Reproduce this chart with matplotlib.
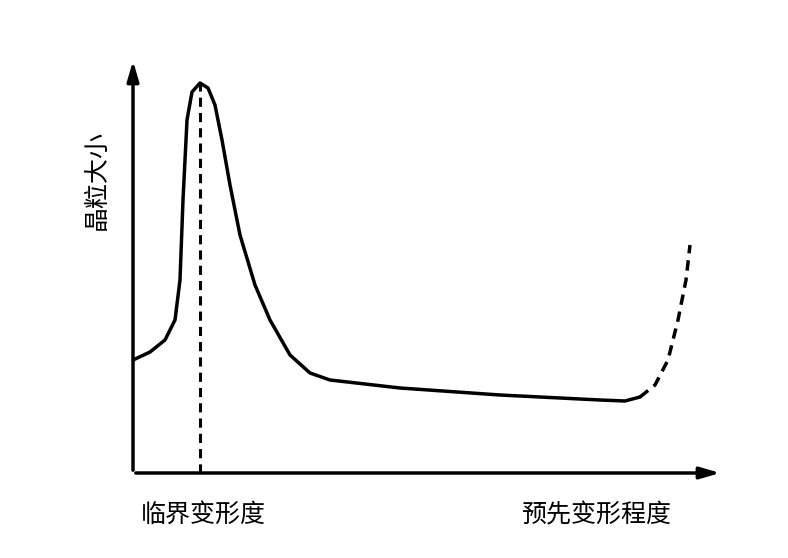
import matplotlib
matplotlib.use("Agg")
import matplotlib.pyplot as plt

plt.rcParams['font.family'] = ['Noto Sans CJK SC', 'DejaVu Sans']

solid_x = [0,17,32,42,47,50,54,59,67,75,82,89,97,107,122,137,157,177,197,267,367,467,492,507]
solid_y = [113,121,133,153,193,273,353,381,390,385,368,333,288,238,188,153,118,100,93,85,78,73,72,76]
dash_x = [507,522,535,545,553,557]
dash_y = [76,88,113,153,193,228]
peak_x = 67
peak_y = 390
ylabel = "晶粒大小"
xlabel_left = "临界变形度"
xlabel_right = "预先变形程度"

fig = plt.figure(figsize=(7.88, 5.58), dpi=100)
ax = fig.add_axes([133/788, 85/558, 590/788, 415/558])
ax.set_xlim(0, 590)
ax.set_ylim(0, 415)
ax.axis('off')

ax.plot(solid_x, solid_y, color='black', lw=2.5, solid_capstyle='round')
ax.plot(dash_x, dash_y, color='black', lw=2.5, ls=(0, (3, 2)))
ax.plot([peak_x, peak_x], [0, peak_y], color='black', lw=2.2, ls=(0, (3, 2)))

ax.annotate('', xy=(590, 0), xytext=(0, 0),
            arrowprops=dict(arrowstyle='-|>,head_length=1.2,head_width=0.35', color='black', lw=2.5))
ax.annotate('', xy=(0, 415), xytext=(0, 0),
            arrowprops=dict(arrowstyle='-|>,head_length=1.2,head_width=0.35', color='black', lw=2.5))

fig.text(97/788, 1-180/558, ylabel, rotation=90, ha='center', va='center', fontsize=18)
fig.text(203/788, 1-515/558, xlabel_left, ha='center', va='center', fontsize=18)
fig.text(596/788, 1-515/558, xlabel_right, ha='center', va='center', fontsize=18)

fig.savefig('out.png', dpi=100)
